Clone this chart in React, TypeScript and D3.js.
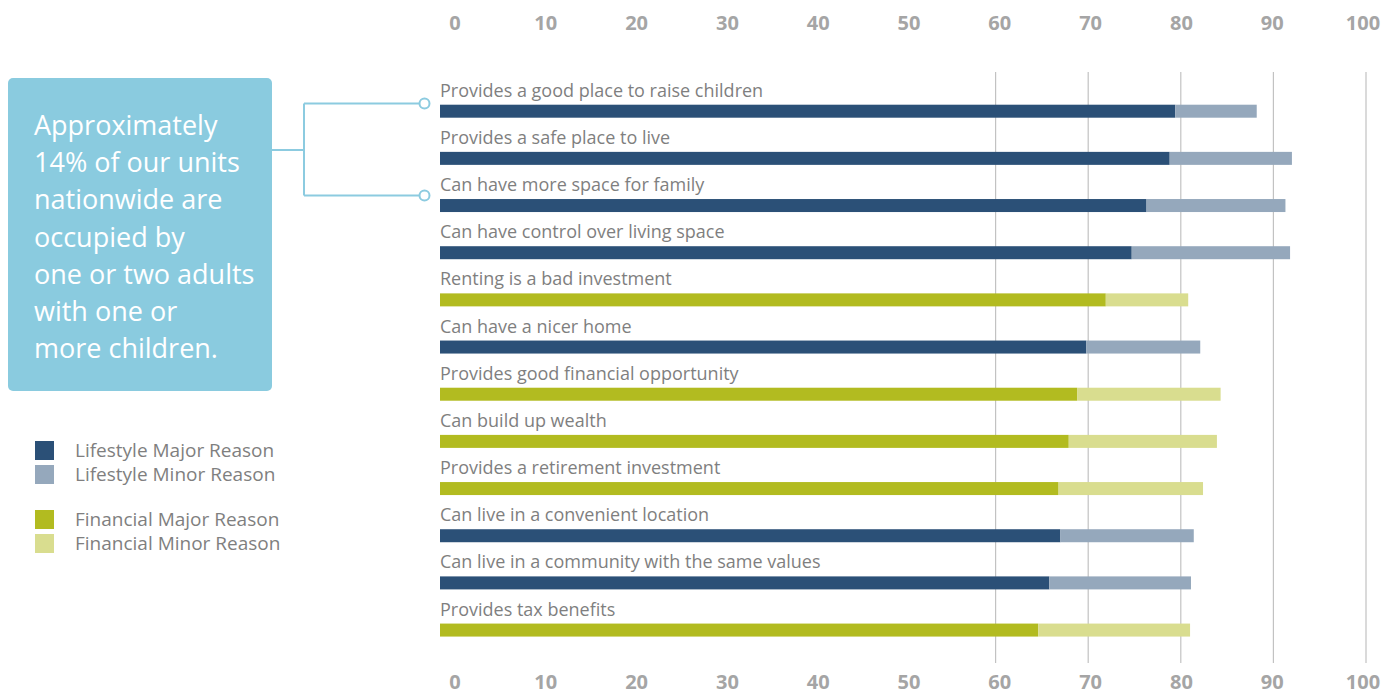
import React from "react";
import * as d3 from "d3";

const categories = [
  "Provides a good place to raise children",
  "Provides a safe place to live",
  "Can have more space for family",
  "Can have control over living space",
  "Renting is a bad investment",
  "Can have a nicer home",
  "Provides good financial opportunity",
  "Can build up wealth",
  "Provides a retirement investment",
  "Can live in a convenient location",
  "Can live in a community with the same values",
  "Provides tax benefits",
];
const groups = [
  "Lifestyle", "Lifestyle", "Lifestyle", "Lifestyle", "Financial", "Lifestyle",
  "Financial", "Financial", "Financial", "Lifestyle", "Lifestyle", "Financial",
];
const majorValues = [79.4, 78.8, 76.3, 74.7, 71.9, 69.8, 68.8, 67.9, 66.8, 67.0, 65.8, 64.6];
const minorValues = [8.8, 13.2, 15.0, 17.1, 8.9, 12.3, 15.5, 16.0, 15.6, 14.4, 15.3, 16.4];
const tickValues = [0, 10, 20, 30, 40, 50, 60, 70, 80, 90, 100];
const gridValues = [60, 70, 80, 90, 100];
const legendItems = [
  { label: "Lifestyle Major Reason", key: "LifestyleMajor" },
  { label: "Lifestyle Minor Reason", key: "LifestyleMinor" },
  { label: "Financial Major Reason", key: "FinancialMajor" },
  { label: "Financial Minor Reason", key: "FinancialMinor" },
];
const calloutLines = [
  "Approximately",
  "14% of our units",
  "nationwide are",
  "occupied by",
  "one or two adults",
  "with one or",
  "more children.",
];

const colors: Record<string, string> = {
  LifestyleMajor: "#2b5077",
  LifestyleMinor: "#95a8bc",
  FinancialMajor: "#b2bb20",
  FinancialMinor: "#d9dd8f",
};

const FONT = "'Open Sans', 'Noto Sans', sans-serif";

export default function App() {
  const W = 1400;
  const H = 694;
  const x = d3.scaleLinear().domain([0, 100]).range([440, 1366]);
  const xLabel = d3.scaleLinear().domain([0, 100]).range([455, 1363]);
  const step = 47.17;
  const y = d3
    .scaleBand()
    .domain(categories)
    .range([73.7, 73.7 + 12 * step])
    .paddingInner(0)
    .paddingOuter(0);
  const barOffset = 31;
  const barH = 13;
  const labelOffset = 23;

  const legendY = d3.scaleOrdinal<string, number>().domain(legendItems.map((d) => d.key)).range([441, 465, 510, 534]);

  const lineY = d3.scaleLinear().domain([0, calloutLines.length - 1]).range([135, 358.3]);

  const c1 = 103.5;
  const c2 = 195.5;
  const teal = "#8ccbe0";

  return (
    <div style={{ position: "absolute", left: 0, top: 0 }}>
      <svg width={W} height={H} style={{ display: "block", background: "#fff" }}>
        {/* gridlines */}
        {gridValues.map((v) => (
          <line key={v} x1={x(v)} x2={x(v)} y1={72} y2={663} stroke="#c2c2c2" strokeWidth={1.2} />
        ))}
        {/* tick labels */}
        {tickValues.map((v) => (
          <g key={v}>
            <text x={xLabel(v)} y={30} textAnchor="middle" fontFamily={FONT} fontWeight={700} fontSize={20} fill="#a5a5a5">
              {v}
            </text>
            <text x={xLabel(v)} y={689} textAnchor="middle" fontFamily={FONT} fontWeight={700} fontSize={20} fill="#a5a5a5">
              {v}
            </text>
          </g>
        ))}
        {/* bars */}
        {categories.map((c, i) => {
          const top = (y(c) as number) + barOffset;
          const g = groups[i];
          return (
            <g key={c}>
              <text x={440} y={(y(c) as number) + labelOffset} fontFamily={FONT} fontSize={18} fill="#7f7f7f">
                {c}
              </text>
              <rect x={x(0)} y={top} width={x(majorValues[i]) - x(0)} height={barH} fill={colors[g + "Major"]} />
              <rect
                x={x(majorValues[i])}
                y={top}
                width={x(majorValues[i] + minorValues[i]) - x(majorValues[i])}
                height={barH}
                fill={colors[g + "Minor"]}
              />
            </g>
          );
        })}
        {/* callout */}
        <rect x={8} y={78} width={264} height={313} rx={5} ry={5} fill="#8acbdf" />
        {calloutLines.map((l, i) => (
          <text key={i} x={34} y={lineY(i)} fontFamily={FONT} fontSize={27} fill="#ffffff">
            {l}
          </text>
        ))}
        <path
          d={`M272,150 H304 M304,${c1} V${c2} M304,${c1} H419 M304,${c2} H419`}
          fill="none"
          stroke={teal}
          strokeWidth={2}
        />
        <circle cx={424.5} cy={c1} r={5} fill="#fff" stroke={teal} strokeWidth={2} />
        <circle cx={424.5} cy={c2} r={5} fill="#fff" stroke={teal} strokeWidth={2} />
        {/* legend */}
        {legendItems.map((d) => (
          <g key={d.key}>
            <rect x={35} y={legendY(d.key)} width={19} height={19} fill={colors[d.key]} />
            <text x={75} y={legendY(d.key) + 16} fontFamily={FONT} fontSize={19} fill="#7f7f7f">
              {d.label}
            </text>
          </g>
        ))}
      </svg>
    </div>
  );
}
